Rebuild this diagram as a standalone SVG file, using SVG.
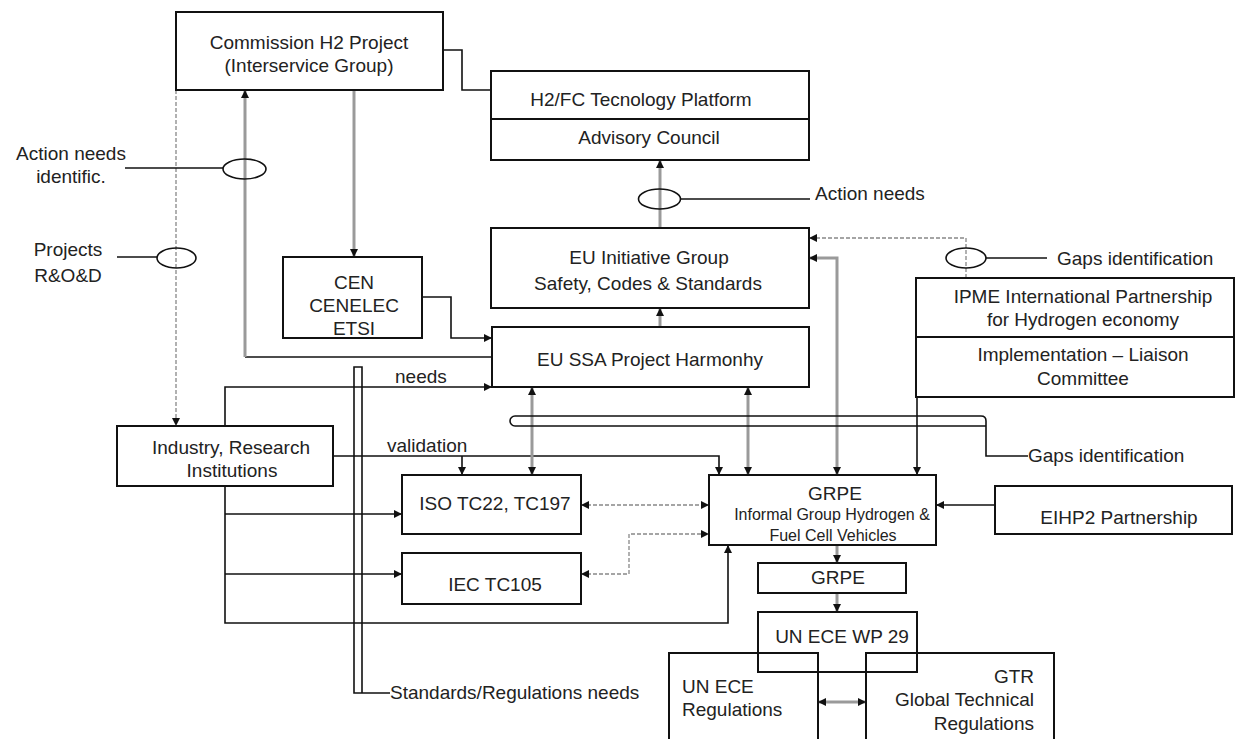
<svg xmlns="http://www.w3.org/2000/svg" width="1236" height="739" viewBox="0 0 1236 739">
<style>
  .box{fill:none;stroke:#111;stroke-width:2}
  .t{font-family:"Liberation Sans",Arial,sans-serif;font-size:19px;fill:#222}
  .s{font-family:"Liberation Sans",Arial,sans-serif;font-size:16px;fill:#222}
  .m{text-anchor:middle}
  .e{text-anchor:end}
  .blk{fill:none;stroke:#111;stroke-width:1.6}
  .gry{fill:none;stroke:#9a9a9a;stroke-width:3}
  .dsh{fill:none;stroke:#888;stroke-width:1.3;stroke-dasharray:4 2}
  .oval{fill:none;stroke:#111;stroke-width:1.6}
</style>
<defs>
  <marker id="ah" viewBox="0 0 10 10" refX="10" refY="5" markerWidth="9" markerHeight="8" markerUnits="userSpaceOnUse" orient="auto-start-reverse">
    <path d="M0,0 L10,5 L0,10 z" fill="#111"/>
  </marker>
</defs>

<g id="connectors">
  <path class="blk" d="M443,50 H462 V90 H491" stroke-width="2"/>
  <path class="gry" d="M354,90 V257" stroke-width="2.2" marker-end="url(#ah)"/>
  <path class="blk" d="M492,357 H245" stroke="#444" stroke-width="2"/>
  <path class="gry" d="M245,357 V90" stroke-width="2.2" marker-end="url(#ah)"/>
  <path class="dsh" d="M176,90 V426" marker-end="url(#ah)"/>
  <path class="blk" d="M125,168 H223"/>
  <path class="blk" d="M117,257 H157"/>
  <path class="gry" d="M660,228 V160" marker-end="url(#ah)"/>
  <path class="blk" d="M681,199 H810"/>
  <path class="blk" d="M422,297 H451 V338 H492" stroke-width="2" marker-end="url(#ah)"/>
  <path class="gry" d="M660,327 V308" marker-end="url(#ah)"/>
  <path class="dsh" d="M966,278 V238 H809" marker-end="url(#ah)"/>
  <path class="blk" d="M986,258 H1047"/>
  <path class="gry" d="M809,258 H837 V475" marker-start="url(#ah)" marker-end="url(#ah)"/>
  <path class="blk" d="M917,397 V475" stroke="#333" marker-end="url(#ah)"/>
  <path class="blk" d="M225,426 V387 H492" marker-end="url(#ah)"/>
  <path class="blk" d="M333,456 H719 V475" marker-end="url(#ah)"/>
  <path class="blk" d="M462,456 V475" marker-end="url(#ah)"/>
  <path class="gry" d="M532,387 V475" stroke-width="2.5" marker-start="url(#ah)" marker-end="url(#ah)"/>
  <path class="gry" d="M748,387 V475" stroke-width="2.5" marker-start="url(#ah)" marker-end="url(#ah)"/>
  <path class="blk" d="M225,486 V623 H728 V545" stroke-width="2" marker-end="url(#ah)"/>
  <path class="blk" d="M225,514 H402" stroke="#444" marker-end="url(#ah)"/>
  <path class="blk" d="M225,574 H402" stroke="#444" marker-end="url(#ah)"/>
  <path class="dsh" d="M581,505 H709" marker-start="url(#ah)" marker-end="url(#ah)"/>
  <path class="dsh" d="M581,574 H629 V534 H709" marker-start="url(#ah)" marker-end="url(#ah)"/>
  <path class="blk" d="M995,505 H936" stroke="#555" marker-end="url(#ah)"/>
  <path class="gry" d="M837,545 V563" marker-end="url(#ah)"/>
  <path class="gry" d="M837,593 V612" marker-end="url(#ah)"/>
  <path class="gry" d="M818,702 H866" marker-start="url(#ah)" marker-end="url(#ah)"/>
  <path class="blk" d="M390,693 H354 V367 H362 V693" stroke-width="2"/>
  <path class="blk" d="M1028,456 H986 V421 Q986,416 981,416 H515 A5,5 0 0 0 515,426 H986" stroke-width="2"/>
  <ellipse class="oval" cx="244.5" cy="169" rx="21.5" ry="10"/>
  <ellipse class="oval" cx="176.5" cy="258" rx="19.5" ry="10"/>
  <ellipse class="oval" cx="659.5" cy="199" rx="21" ry="10"/>
  <ellipse class="oval" cx="966" cy="258" rx="20" ry="10"/>
</g>

<g id="labels">
  <text class="t m" x="71" y="160">Action needs</text>
  <text class="t m" x="71" y="183">identific.</text>
  <text class="t m" x="68" y="256">Projects</text>
  <text class="t m" x="68" y="282">R&amp;O&amp;D</text>
  <text class="t" x="815" y="200">Action needs</text>
  <text class="t" x="1057" y="265">Gaps identification</text>
  <text class="t" x="1028" y="462">Gaps identification</text>
  <text class="t" x="395" y="383">needs</text>
  <text class="t" x="387" y="452">validation</text>
  <text class="t" x="390" y="699">Standards/Regulations needs</text>
</g>

<g id="commission">
  <rect class="box" x="176" y="12" width="267" height="78"/>
  <text class="t m" x="309" y="49">Commission H2 Project</text>
  <text class="t m" x="309" y="72">(Interservice Group)</text>
</g>
<g id="h2fc">
  <rect class="box" x="491" y="71" width="318" height="89"/>
  <line x1="491" y1="119" x2="809" y2="119" stroke="#111" stroke-width="2"/>
  <text class="t m" x="641" y="106">H2/FC Tecnology Platform</text>
  <text class="t m" x="649" y="144">Advisory Council</text>
</g>
<g id="euinit">
  <rect class="box" x="491" y="228" width="318" height="80"/>
  <text class="t m" x="649" y="264">EU Initiative Group</text>
  <text class="t m" x="648" y="290">Safety, Codes &amp; Standards</text>
</g>
<g id="cen">
  <rect class="box" x="283" y="257" width="139" height="81"/>
  <text class="t m" x="354" y="289">CEN</text>
  <text class="t m" x="354" y="312">CENELEC</text>
  <text class="t m" x="354" y="335">ETSI</text>
</g>
<g id="ssa">
  <rect class="box" x="492" y="327" width="317" height="60"/>
  <text class="t m" x="650" y="366">EU SSA Project Harmonhy</text>
</g>
<g id="ipme">
  <rect class="box" x="916" y="278" width="318" height="119"/>
  <line x1="916" y1="337" x2="1234" y2="337" stroke="#111" stroke-width="2"/>
  <text class="t m" x="1083" y="303">IPME International Partnership</text>
  <text class="t m" x="1083" y="326">for Hydrogen economy</text>
  <text class="t m" x="1083" y="361">Implementation – Liaison</text>
  <text class="t m" x="1083" y="385">Committee</text>
</g>
<g id="industry">
  <rect class="box" x="117" y="426" width="216" height="60"/>
  <text class="t m" x="231" y="454">Industry, Research</text>
  <text class="t m" x="232" y="477">Institutions</text>
</g>
<g id="iso">
  <rect class="box" x="402" y="475" width="179" height="59"/>
  <text class="t m" x="495" y="510">ISO TC22, TC197</text>
</g>
<g id="iec">
  <rect class="box" x="402" y="553" width="179" height="51"/>
  <text class="t m" x="495" y="591">IEC TC105</text>
</g>
<g id="grpe">
  <rect class="box" x="709" y="475" width="227" height="70"/>
  <text class="t m" x="835" y="500">GRPE</text>
  <text class="s m" x="832" y="520">Informal Group Hydrogen &amp;</text>
  <text class="s m" x="833" y="541">Fuel Cell Vehicles</text>
</g>
<g id="eihp2">
  <rect class="box" x="995" y="486" width="237" height="48"/>
  <text class="t m" x="1119" y="524">EIHP2 Partnership</text>
</g>
<g id="grpe2">
  <rect class="box" x="758" y="563" width="148" height="30"/>
  <text class="t m" x="838" y="584">GRPE</text>
</g>
<g id="wp29">
  <rect class="box" x="758" y="612" width="159" height="60"/>
  <text class="t m" x="842" y="643">UN ECE WP 29</text>
</g>
<g id="uneceregs">
  <rect class="box" x="669" y="653" width="149" height="100"/>
  <text class="t" x="682" y="693">UN ECE</text>
  <text class="t" x="682" y="716">Regulations</text>
</g>
<g id="gtr">
  <rect class="box" x="866" y="653" width="188" height="100"/>
  <text class="t e" x="1034" y="683">GTR</text>
  <text class="t e" x="1034" y="706">Global Technical</text>
  <text class="t e" x="1034" y="730">Regulations</text>
</g>
</svg>
